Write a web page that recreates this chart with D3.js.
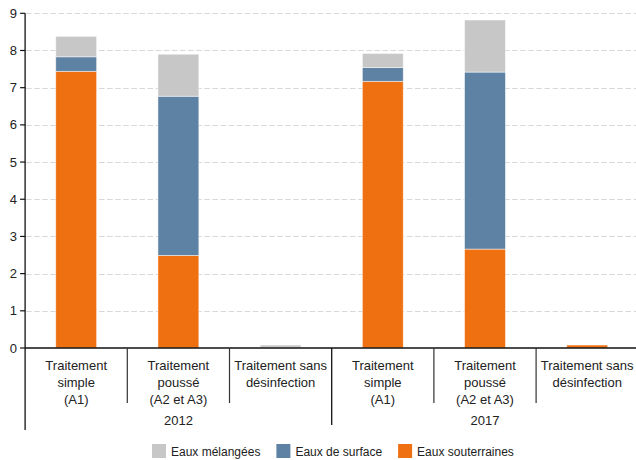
<!DOCTYPE html>
<html>
<head>
<meta charset="utf-8">
<script src="https://cdn.jsdelivr.net/npm/d3@7"></script>
<style>
  body { margin: 0; background: #fff; }
  svg { display: block; font-family: "Liberation Sans", Arial, sans-serif; }
</style>
</head>
<body>
<svg id="chart" width="636" height="460"></svg>
<script>
// Data
const years = ['2012', '2017']
const treatments = [
    ['Traitement', 'simple', '(A1)'],
    ['Traitement', 'poussé', '(A2 et A3)'],
    ['Traitement sans', 'désinfection']
]
const seriesKeys = ['souterraines', 'surface', 'melangees']
const seriesNames = ['Eaux souterraines', 'Eaux de surface', 'Eaux mélangées']
const souterraines = [7.44, 2.49, 0.02, 7.17, 2.66, 0.08]
const surface = [0.39, 4.28, 0, 0.37, 4.76, 0]
const melangees = [0.55, 1.13, 0.06, 0.38, 1.40, 0]
const yTicks = [0, 1, 2, 3, 4, 5, 6, 7, 8, 9]

const colors = { souterraines: '#ee7011', surface: '#5e82a3', melangees: '#c6c7c6' }

// Table for the stack
const rows = []
years.forEach(function(yr, yi){
    treatments.forEach(function(t, ti){
        const i = yi * treatments.length + ti
        rows.push({ id: yr + '-' + ti, year: yr, lines: t,
            souterraines: souterraines[i], surface: surface[i], melangees: melangees[i] })
    })
})

const svg = d3.select('#chart')
const plotLeft = 25.1, plotRight = 638.3, plotTop = 13.3, plotBottom = 348

const x = d3.scaleBand()
    .domain(rows.map(d => d.id))
    .range([plotLeft, plotRight])
    .paddingInner(0)
    .paddingOuter(0)

const barW = x.bandwidth() * 0.4

const y = d3.scaleLinear().domain([0, 9]).range([plotBottom, plotTop])

// Grid lines
svg.append('g')
    .selectAll('line')
    .data(yTicks.filter(d => d > 0))
    .join('line')
    .attr('x1', plotLeft + 1)
    .attr('x2', 636)
    .attr('y1', d => Math.round(y(d)) + 0.5)
    .attr('y2', d => Math.round(y(d)) + 0.5)
    .style('stroke', '#d8d8d8')
    .style('stroke-width', 1.2)
    .style('stroke-dasharray', '5.5,2.6')

// Bars
const stacked = d3.stack().keys(seriesKeys)(rows)

svg.append('g')
    .selectAll('g')
    .data(stacked)
    .join('g')
    .style('fill', d => colors[d.key])
    .selectAll('rect')
    .data(d => d.filter(s => s[1] - s[0] > 0))
    .join('rect')
    .attr('x', d => x(d.data.id) + (x.bandwidth() - barW) / 2)
    .attr('width', barW)
    .attr('y', d => y(d[1]))
    .attr('height', d => y(d[0]) - y(d[1]))
    .style('stroke', 'rgba(255,255,255,0.6)')
    .style('stroke-width', 0.8)

// Y axis
const yAxis = svg.append('g')
yAxis.append('line')
    .attr('x1', plotLeft).attr('x2', plotLeft)
    .attr('y1', plotTop).attr('y2', 430)
    .style('stroke', '#111').style('stroke-width', 1.3)

yAxis.selectAll('line.tick')
    .data(yTicks)
    .join('line')
    .classed('tick', true)
    .attr('x1', plotLeft - 5).attr('x2', plotLeft)
    .attr('y1', d => y(d)).attr('y2', d => y(d))
    .style('stroke', '#111').style('stroke-width', 1.2)

yAxis.selectAll('text')
    .data(yTicks)
    .join('text')
    .attr('x', 17)
    .attr('y', d => y(d) + 4.6)
    .attr('text-anchor', 'end')
    .style('font-size', '13px')
    .style('fill', '#222')
    .text(d => d)

// X axis line
svg.append('line')
    .attr('x1', plotLeft).attr('x2', 636)
    .attr('y1', plotBottom).attr('y2', plotBottom)
    .style('stroke', '#111').style('stroke-width', 1.3)

// Category separators
svg.append('g')
    .selectAll('line')
    .data(rows.slice(1).filter((d, i) => (i + 1) % treatments.length != 0))
    .join('line')
    .attr('x1', d => x(d.id)).attr('x2', d => x(d.id))
    .attr('y1', plotBottom).attr('y2', 403)
    .style('stroke', '#333').style('stroke-width', 1.2)

// Year separators
svg.append('g')
    .selectAll('line')
    .data(years.slice(1))
    .join('line')
    .attr('x1', d => x(d + '-0')).attr('x2', d => x(d + '-0'))
    .attr('y1', plotBottom).attr('y2', 425)
    .style('stroke', '#111').style('stroke-width', 1.3)

// Category labels
const catLabels = svg.append('g')
    .selectAll('text')
    .data(rows)
    .join('text')
    .attr('text-anchor', 'middle')
    .style('font-size', '13px')
    .style('fill', '#222')

catLabels.selectAll('tspan')
    .data(d => d.lines.map(l => ({ l: l, cx: x(d.id) + x.bandwidth() / 2 })))
    .join('tspan')
    .attr('x', d => d.cx)
    .attr('y', (d, i) => 370 + i * 17)
    .text(d => d.l)

// Year labels
svg.append('g')
    .selectAll('text')
    .data(years)
    .join('text')
    .attr('x', d => x(d + '-1') + x.bandwidth() / 2)
    .attr('y', 425)
    .attr('text-anchor', 'middle')
    .style('font-size', '13px')
    .style('fill', '#222')
    .text(d => d)

// Legend
const legendOrder = [2, 1, 0]
const legend = svg.append('g').attr('transform', 'translate(152,0)')
let lx = 0
legendOrder.forEach(function(si){
    const g = legend.append('g').attr('transform', 'translate(' + lx + ',0)')
    g.append('rect')
        .attr('x', 0).attr('y', 444)
        .attr('width', 14).attr('height', 14)
        .style('fill', colors[seriesKeys[si]])
    const t = g.append('text')
        .attr('x', 19).attr('y', 456)
        .style('font-size', '12px')
        .style('fill', '#222')
        .text(seriesNames[si])
    lx += 19 + t.node().getComputedTextLength() + 16
})
</script>
</body>
</html>
